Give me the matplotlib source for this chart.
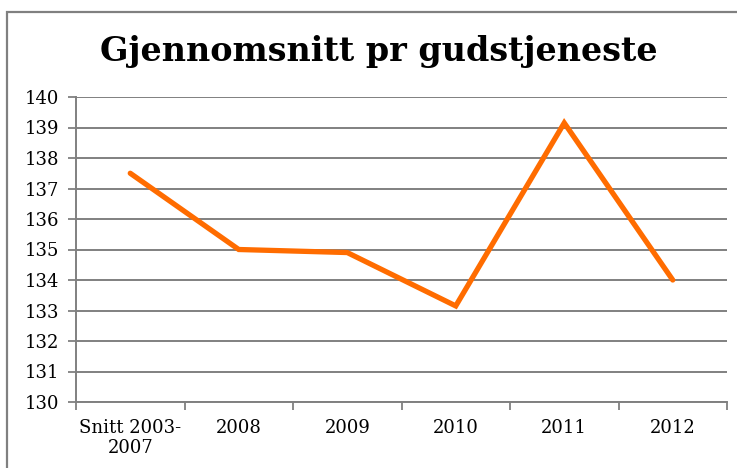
import numpy as np
import matplotlib.pyplot as plt
from matplotlib.patches import Rectangle

# data
categories = ["Snitt 2003-\n2007", "2008", "2009", "2010", "2011", "2012"]
values = [137.5, 135.0, 134.9, 133.15, 139.15, 134.0]
yticks = list(range(130, 141))

grey = "#808080"
orange = "#FF6C00"
serif = ["DejaVu Serif", "Liberation Serif"]

fig = plt.figure(figsize=(7.37, 4.68), dpi=100)
ax = fig.add_axes([76/737, 1-402/468, (727-76)/737, (402-97)/468])

# outer chart border (cut off on right/bottom like the reference)
fig.patches.append(Rectangle((7/737, -0.1), 1.2, 1-12/468+0.1, transform=fig.transFigure,
                             fill=False, edgecolor=grey, lw=1.6, zorder=0))

x = np.arange(len(categories))
ax.plot(x, values, color=orange, lw=3.8, solid_joinstyle="miter", solid_capstyle="round", zorder=3)

ax.set_xlim(-0.5, len(categories) - 0.5)
ax.set_ylim(130, 140)
ax.set_yticks(yticks)
ax.set_yticklabels([str(v) for v in yticks], fontfamily=serif, fontsize=13)
ax.set_xticks(x)
ax.set_xticklabels(categories, fontfamily=serif, fontsize=13, linespacing=1.15)
ax.set_xticks(np.arange(-0.5, len(categories)), minor=True)
ax.tick_params(axis="x", which="major", length=0, pad=12)
ax.tick_params(axis="x", which="minor", length=6, width=1.3, color=grey, direction="out")
ax.tick_params(axis="y", length=6, width=1.3, color=grey, pad=6)

ax.grid(axis="y", color=grey, lw=1.4)
ax.set_axisbelow(True)
for s in ["top", "right"]:
    ax.spines[s].set_visible(False)
for s in ["left", "bottom"]:
    ax.spines[s].set_color(grey)
    ax.spines[s].set_linewidth(1.4)

fig.text(379/737, 1-52/468, "Gjennomsnitt pr gudstjeneste", ha="center", va="center",
         fontfamily=serif, fontweight="bold", fontsize=24)

fig.savefig("out.png", dpi=100)
